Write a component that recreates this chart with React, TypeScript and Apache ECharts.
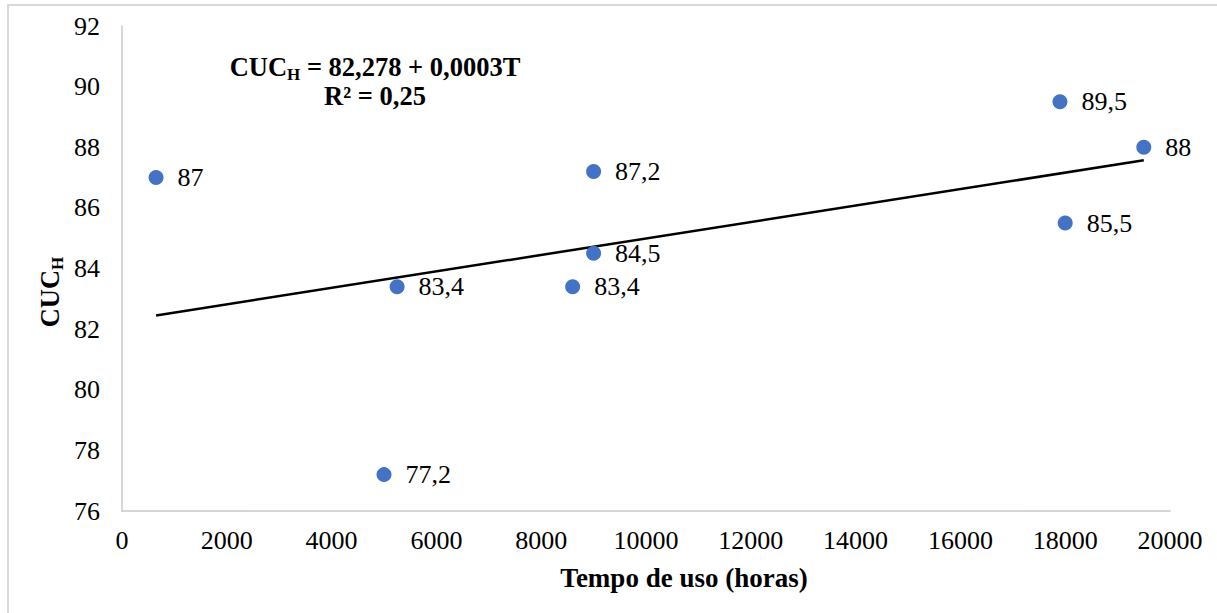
import React, { useEffect, useRef } from "react";
import * as echarts from "echarts";

const tempoHoras = [650, 5250, 5000, 9000, 9000, 8600, 17900, 18000, 19500];
const cucH = [87, 83.4, 77.2, 87.2, 84.5, 83.4, 89.5, 85.5, 88];
const xTicks = { min: 0, max: 20000, interval: 2000 };
const yTicks = { min: 76, max: 92, interval: 2 };
const equationText = " = 82,278 + 0,0003T";
const r2Text = "R² = 0,25";
const xName = "Tempo de uso (horas)";

const FONT = "Liberation Serif";

function regression(xs: number[], ys: number[]) {
  const n = xs.length;
  const mx = xs.reduce((a, b) => a + b, 0) / n;
  const my = ys.reduce((a, b) => a + b, 0) / n;
  let sxy = 0;
  let sxx = 0;
  for (let i = 0; i < n; i++) {
    sxy += (xs[i] - mx) * (ys[i] - my);
    sxx += (xs[i] - mx) * (xs[i] - mx);
  }
  const b = sxy / sxx;
  return { a: my - b * mx, b };
}

export default function App() {
  const ref = useRef<HTMLDivElement>(null);
  useEffect(() => {
    document.body.style.margin = "0";
    if (!ref.current) return;
    const chart = echarts.init(ref.current, null, { renderer: "svg" });
    const { a, b } = regression(tempoHoras, cucH);
    const xMin = Math.min(...tempoHoras);
    const xMax = Math.max(...tempoHoras);
    const trend = [
      [xMin, a + b * xMin],
      [xMax, a + b * xMax],
    ];
    const points = tempoHoras.map((x, i) => [x, cucH[i]]);
    const richEq = {
      m: { fontFamily: FONT, fontSize: 26.5, fontWeight: "bold", fill: "#000", lineHeight: 30 },
      s: { fontFamily: FONT, fontSize: 17, fontWeight: "bold", fill: "#000", lineHeight: 30, padding: [14, 0, 0, 0] },
    };
    chart.setOption({
      animation: false,
      backgroundColor: "#ffffff",
      textStyle: { fontFamily: FONT },
      grid: { left: 122, right: 47, top: 26, bottom: 102, containLabel: false },
      xAxis: {
        type: "value",
        min: xTicks.min,
        max: xTicks.max,
        interval: xTicks.interval,
        splitLine: { show: false },
        axisTick: { show: false },
        axisLine: { show: true, lineStyle: { color: "#c8c8c8", width: 1.5 } },
        axisLabel: {
          fontFamily: FONT,
          fontSize: 26,
          color: "#000",
          margin: 16,
          formatter: (v: number) => String(v),
        },
      },
      yAxis: {
        type: "value",
        min: yTicks.min,
        max: yTicks.max,
        interval: yTicks.interval,
        splitLine: { show: false },
        axisTick: { show: false },
        axisLine: { show: true, lineStyle: { color: "#c8c8c8", width: 1.5 } },
        axisLabel: { fontFamily: FONT, fontSize: 26, color: "#000", margin: 22 },
      },
      graphic: [
        {
          type: "rect",
          silent: true,
          shape: { x: 8, y: 5, width: 1400, height: 800 },
          style: { fill: "none", stroke: "#d9d9d9", lineWidth: 2 },
        },
        {
          type: "text",
          x: 50,
          y: 292,
          rotation: Math.PI / 2,
          style: {
            text: "{m|CUC}{s|H}",
            align: "center",
            verticalAlign: "middle",
            rich: richEq,
          },
        },
        {
          type: "text",
          x: 684,
          y: 578,
          style: {
            text: xName,
            align: "center",
            verticalAlign: "middle",
            fontFamily: FONT,
            fontSize: 27,
            fontWeight: "bold",
            fill: "#000",
          },
        },
        {
          type: "text",
          x: 375,
          y: 67,
          style: {
            text: "{m|CUC}{s|H}{m|" + equationText + "}",
            align: "center",
            verticalAlign: "middle",
            rich: richEq,
          },
        },
        {
          type: "text",
          x: 375,
          y: 96,
          style: {
            text: r2Text,
            align: "center",
            verticalAlign: "middle",
            fontFamily: FONT,
            fontSize: 26.5,
            fontWeight: "bold",
            fill: "#000",
          },
        },
      ],
      series: [
        {
          type: "line",
          data: trend,
          symbol: "none",
          lineStyle: { color: "#000", width: 2.5 },
          silent: true,
          z: 2,
        },
        {
          type: "scatter",
          data: points,
          symbolSize: 15,
          itemStyle: { color: "#4472C4", opacity: 1 },
          z: 3,
          label: {
            show: true,
            position: "right",
            distance: 14,
            fontFamily: FONT,
            fontSize: 26,
            color: "#000",
            formatter: (p: any) => String(p.value[1]).replace(".", ","),
          },
        },
      ],
    });
    return () => chart.dispose();
  }, []);
  return <div ref={ref} style={{ width: 1217, height: 613 }} />;
}
